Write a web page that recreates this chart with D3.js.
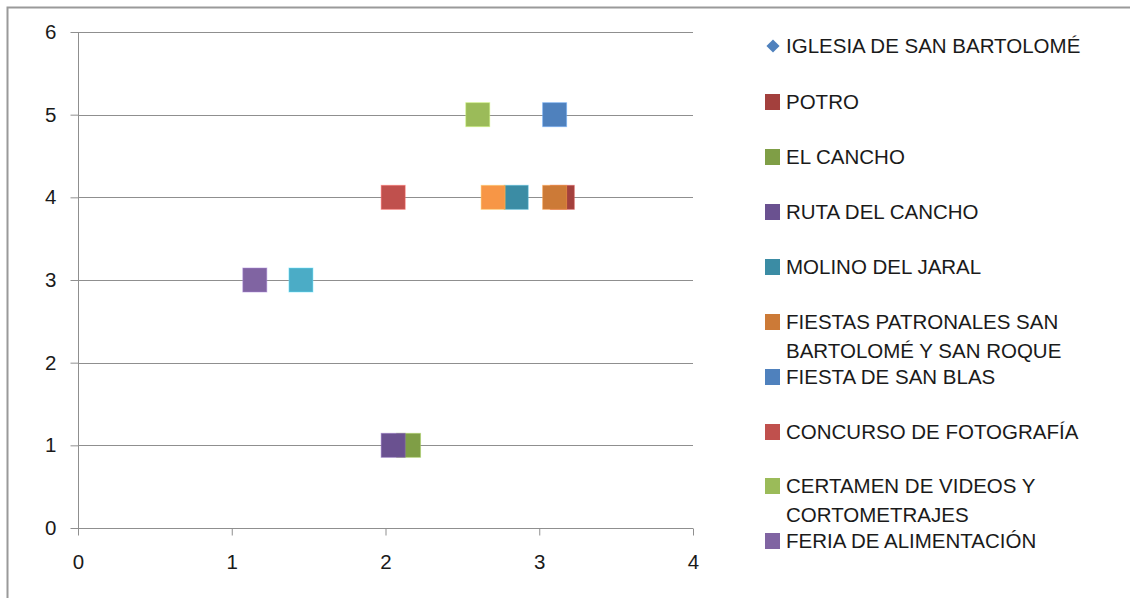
<!DOCTYPE html>
<html>
<head>
<meta charset="utf-8">
<script src="https://cdn.jsdelivr.net/npm/d3@7"></script>
<style>
  html, body { margin: 0; padding: 0; background: #fff; }
  svg { display: block; }
  text { font-family: "Liberation Sans", "DejaVu Sans", sans-serif; fill: #1a1a1a; }
</style>
</head>
<body>
<svg id="chart" width="1130" height="598"></svg>
<script>
// Series names shown in the legend (in drawing order)
const seriesNames = [
  "IGLESIA DE SAN BARTOLOMÉ",
  "POTRO",
  "EL CANCHO",
  "RUTA DEL CANCHO",
  "MOLINO DEL JARAL",
  "FIESTAS PATRONALES SAN BARTOLOMÉ Y SAN ROQUE",
  "FIESTA DE SAN BLAS",
  "CONCURSO DE FOTOGRAFÍA",
  "CERTAMEN DE VIDEOS Y CORTOMETRAJES",
  "FERIA DE ALIMENTACIÓN",
  "",
  ""
];
// Point coordinates per series
const seriesX = [3.10, 3.15, 2.15, 2.05, 2.85, 3.10, 3.10, 2.05, 2.60, 1.15, 1.45, 2.70];
const seriesY = [4, 4, 1, 1, 4, 4, 5, 4, 5, 3, 3, 4];
const seriesColors = ["#4F81BD", "#A3403D", "#7F9E46", "#6A5190", "#3B8CA4", "#CC7A37",
                      "#4F81BD", "#C0504D", "#9BBB59", "#8064A2", "#4BACC6", "#F79646"];
const seriesShapes = ["diamond", "square", "square", "square", "square", "square",
                      "square", "square", "square", "square", "square", "square"];
// Legend rows: which lines each entry wraps onto
const legendLines = [
  ["IGLESIA DE SAN BARTOLOMÉ"],
  ["POTRO"],
  ["EL CANCHO"],
  ["RUTA DEL CANCHO"],
  ["MOLINO DEL JARAL"],
  ["FIESTAS PATRONALES SAN", "BARTOLOMÉ Y SAN ROQUE"],
  ["FIESTA DE SAN BLAS"],
  ["CONCURSO DE FOTOGRAFÍA"],
  ["CERTAMEN DE VIDEOS Y", "CORTOMETRAJES"],
  ["FERIA DE ALIMENTACIÓN"]
];
const xTicks = [0, 1, 2, 3, 4];
const yTicks = [0, 1, 2, 3, 4, 5, 6];

const svg = d3.select("#chart");

// Outer chart frame
svg.append("rect")
  .attr("x", 7.5).attr("y", 7.5)
  .attr("width", 1140).attr("height", 620)
  .attr("fill", "none").attr("stroke", "#9a9a9a").attr("stroke-width", 2);

const plot = { left: 78, right: 693, top: 32, bottom: 528 };
const x = d3.scaleLinear().domain([0, 4]).range([plot.left, plot.right]);
const y = d3.scaleLinear().domain([0, 6]).range([plot.bottom, plot.top]);

// Horizontal gridlines
svg.append("g")
  .selectAll("line")
  .data(yTicks.filter(d => d > 0))
  .join("line")
  .attr("x1", plot.left).attr("x2", plot.right)
  .attr("y1", d => Math.round(y(d)) + 0.5).attr("y2", d => Math.round(y(d)) + 0.5)
  .attr("stroke", "#8f8f8f").attr("stroke-width", 1);

// Y axis
const yAxis = svg.append("g")
  .attr("transform", `translate(${plot.left + 0.5},0)`)
  .call(d3.axisLeft(y).tickValues(yTicks).tickSize(8).tickPadding(14).tickFormat(d3.format("d")));
// X axis
const xAxis = svg.append("g")
  .attr("transform", `translate(0,${plot.bottom + 0.5})`)
  .call(d3.axisBottom(x).tickValues(xTicks).tickSize(7).tickPadding(19).tickFormat(d3.format("d")));

[yAxis, xAxis].forEach(a => {
  a.select(".domain").attr("stroke", "#8f8f8f");
  a.selectAll(".tick line").attr("stroke", "#8f8f8f");
  a.selectAll(".tick text")
    .attr("font-family", "'Liberation Sans', sans-serif")
    .attr("font-size", 20.5).attr("fill", "#1a1a1a");
});
yAxis.select(".domain").attr("d", `M0,${plot.top}V${plot.bottom}`);
xAxis.select(".domain").attr("d", `M${plot.left},0H${plot.right}`);

// Markers
const markerSize = 24;
const points = seriesX.map((v, i) => ({ x: v, y: seriesY[i], color: seriesColors[i], shape: seriesShapes[i] }));
const markers = svg.append("g");
points.forEach(p => {
  if (p.shape === "diamond") {
    markers.append("path")
      .attr("d", d3.symbol(d3.symbolDiamond2, 220)())
      .attr("transform", `translate(${x(p.x)},${y(p.y)})`)
      .attr("fill", p.color);
  } else {
    markers.append("rect")
      .attr("x", x(p.x) - markerSize / 2).attr("y", y(p.y) - markerSize / 2)
      .attr("width", markerSize).attr("height", markerSize)
      .attr("fill", p.color)
      .attr("stroke", d3.color(p.color).brighter(0.8)).attr("stroke-opacity", 0.5).attr("stroke-width", 1);
  }
});

// Legend
const legend = svg.append("g");
const rowTops = [46, 102, 157, 212, 267, 322, 377, 432, 486, 541];
const lineGap = 29;
legendLines.forEach((lines, i) => {
  const cy = rowTops[i];
  const color = seriesColors[i];
  if (seriesShapes[i] === "diamond") {
    legend.append("path")
      .attr("d", d3.symbol(d3.symbolDiamond2, 110)())
      .attr("transform", `translate(773,${cy})`)
      .attr("fill", color);
  } else {
    legend.append("rect")
      .attr("x", 765).attr("y", cy - 8)
      .attr("width", 15).attr("height", 16)
      .attr("fill", color);
  }
  lines.forEach((t, j) => {
    legend.append("text")
      .attr("x", 786).attr("y", cy + j * lineGap)
      .attr("dy", "0.36em")
      .attr("font-size", 20.5)
      .text(t);
  });
});
</script>
</body>
</html>
